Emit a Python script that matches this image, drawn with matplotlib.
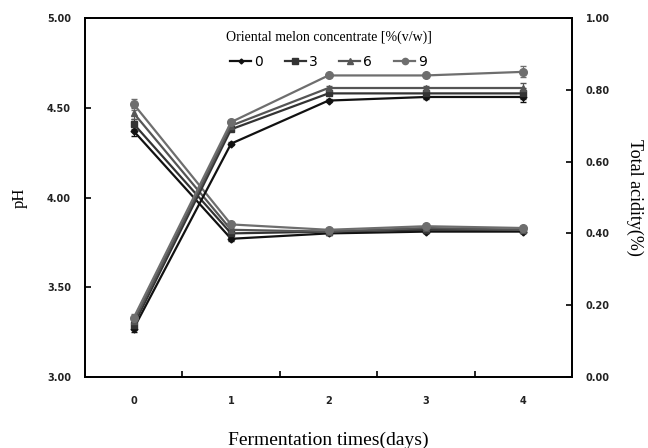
import matplotlib
matplotlib.use("Agg")
import matplotlib.pyplot as plt
from matplotlib.lines import Line2D

days = [0, 1, 2, 3, 4]
conc = ["0", "3", "6", "9"]
ph = {
    "0": [4.37, 3.77, 3.80, 3.81, 3.81],
    "3": [4.41, 3.80, 3.81, 3.82, 3.82],
    "6": [4.47, 3.82, 3.81, 3.83, 3.82],
    "9": [4.52, 3.85, 3.82, 3.84, 3.83],
}
ph_err = [0.03, 0.01, 0.01, 0.01, 0.01]
acid = {
    "0": [0.135, 0.65, 0.77, 0.78, 0.78],
    "3": [0.145, 0.69, 0.79, 0.79, 0.79],
    "6": [0.155, 0.70, 0.805, 0.805, 0.805],
    "9": [0.165, 0.71, 0.84, 0.84, 0.85],
}
acid_err = [0.01, 0.005, 0.005, 0.005, 0.015]

colors = {"0": "#111111", "3": "#333333", "6": "#555555", "9": "#6e6e6e"}
markers = {"0": "D", "3": "s", "6": "^", "9": "o"}
msize = {"0": 3.5, "3": 5, "6": 5, "9": 5.5}

fig = plt.figure(figsize=(6.48, 4.48), dpi=100)
ax = fig.add_axes([85/648, 1-377/448, (572-85)/648, (377-18)/448])
ax2 = ax.twinx()

serif = "Liberation Serif"
handles = []
for c in conc:
    ax.errorbar(days, ph[c], yerr=ph_err, color=colors[c], marker=markers[c],
                ms=msize[c], lw=1.6, capsize=2, elinewidth=0.8)
    ax2.errorbar(days, acid[c], yerr=acid_err, color=colors[c], marker=markers[c],
                 ms=msize[c], lw=1.6, capsize=2, elinewidth=0.8)
    handles.append(Line2D([], [], color=colors[c], marker=markers[c], ms=msize[c] - 1, lw=1.6, label=c))

ax.set_xlim(-0.5, 4.5)
ax.set_ylim(3.0, 5.0)
ax2.set_ylim(0.0, 1.0)
ax.set_yticks([3.0, 3.5, 4.0, 4.5, 5.0])
ax.set_yticklabels(["3.00", "3.50", "4.00", "4.50", "5.00"])
ax2.set_yticks([0.0, 0.2, 0.4, 0.6, 0.8, 1.0])
ax2.set_yticklabels(["0.00", "0.20", "0.40", "0.60", "0.80", "1.00"])

ax.set_xticks([0.5, 1.5, 2.5, 3.5], minor=False)
ax.set_xticklabels([])
ax.set_xticks(days, minor=True)
ax.set_xticklabels([str(d) for d in days], minor=True)
ax.tick_params(axis="x", which="major", direction="in", length=4, width=1.2)
ax.tick_params(axis="x", which="minor", length=0, pad=14)
ax.tick_params(axis="y", direction="in", length=4, width=1.2, pad=10)
ax2.tick_params(axis="y", direction="in", length=4, width=1.2, pad=10)
for a in (ax, ax2):
    for lab in a.get_yticklabels() + a.get_xticklabels(minor=True):
        lab.set_fontsize(7)
        lab.set_fontweight("bold")
        lab.set_color("#222222")
    for s in a.spines.values():
        s.set_linewidth(1.3)

ax.set_ylabel("pH", family=serif, fontsize=12, labelpad=14)
ax2.set_ylabel("Total acidity(%)", family=serif, fontsize=13, rotation=270, labelpad=24)
ax.set_xlabel("Fermentation times(days)", family=serif, fontsize=14, labelpad=18)

leg = ax.legend(handles=handles, loc="upper center", ncol=4, frameon=False,
                title="Oriental melon concentrate [%(v/w)]",
                prop={"family": "DejaVu Sans", "size": 10}, title_fontproperties={"family": serif, "size": 10},
                handlelength=1.5, handletextpad=0.2, columnspacing=1.6, bbox_to_anchor=(0.5, 1.0))
leg._legend_box.sep = 8

fig.savefig("out.png", dpi=100)
